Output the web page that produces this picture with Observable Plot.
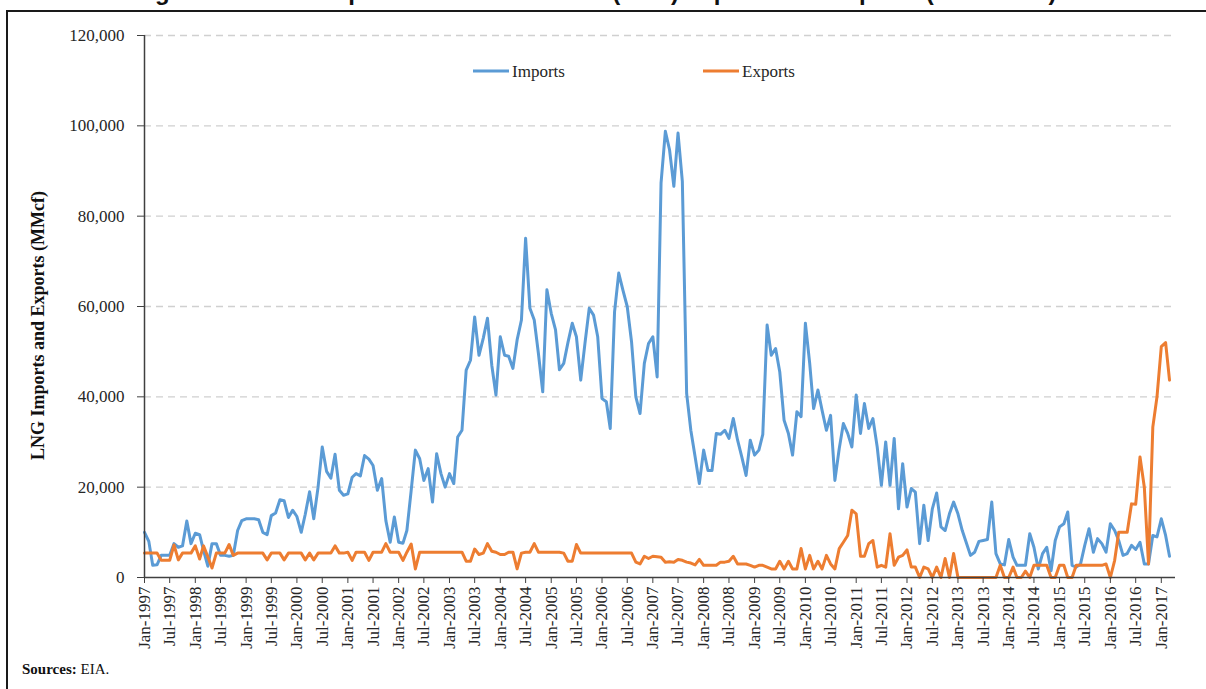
<!DOCTYPE html>
<html>
<head>
<meta charset="utf-8">
<script src="https://cdn.jsdelivr.net/npm/d3@7"></script>
<script src="https://cdn.jsdelivr.net/npm/@observablehq/plot@0.6"></script>
<style>
  html, body { margin: 0; padding: 0; background: #fff; overflow: hidden; }
  #chart svg { display: block; }
</style>
</head>
<body>
<div id="chart"></div>
<script>
// Monthly LNG imports and exports (MMcf), Jan-1997 .. Mar-2017
const startYear = 1997;
const imports = [
  10000, 8000, 2700, 2800, 4900, 4900, 4900, 7500, 6700, 7000, 12500, 7500,      // 1997
  9800, 9500, 6000, 2500, 7500, 7500, 4900, 4900, 4700, 4900, 10400, 12600,      // 1998
  13000, 13000, 13000, 12800, 10000, 9500, 13700, 14300, 17200, 17000, 13300, 14900, // 1999
  13500, 10000, 14000, 19000, 13000, 20000, 28900, 23500, 22000, 27300, 19300, 18200, // 2000
  18500, 22200, 23000, 22500, 27000, 26200, 24800, 19300, 21900, 12600, 7800, 13400, // 2001
  7800, 7600, 10400, 19300, 28200, 26300, 21500, 24100, 16700, 27400, 23000, 20000,  // 2002
  23000, 20800, 31100, 32600, 45900, 48100, 57700, 49200, 53000, 57400, 47000, 40400, // 2003
  53300, 49200, 49000, 46300, 52600, 57000, 75100, 59600, 57000, 49600, 41100, 63700, // 2004
  58500, 54800, 46000, 47400, 52000, 56300, 53300, 43700, 52000, 59600, 58100, 53300, // 2005
  39600, 38900, 33000, 58800, 67400, 63500, 60000, 52200, 40000, 36300, 47400, 51800, // 2006
  53300, 44400, 87300, 98800, 94700, 86600, 98400, 87700, 40700, 32600, 26700, 20800, // 2007
  28200, 23700, 23700, 31900, 31700, 32600, 30800, 35200, 30400, 26700, 22600, 30400, // 2008
  27100, 28200, 31700, 55900, 49200, 50700, 45500, 34800, 31900, 27100, 36700, 35600, // 2009
  56300, 47400, 37400, 41500, 37000, 32600, 35900, 21500, 28500, 34100, 31900, 28900, // 2010
  40400, 31900, 38500, 33000, 35200, 28900, 20400, 30000, 20400, 30800, 15200, 25200, // 2011
  15600, 19700, 18900, 7500, 16000, 8200, 15200, 18700, 11200, 10400, 14100, 16700,   // 2012
  14100, 10400, 7800, 4900, 5600, 8000, 8200, 8400, 16700, 5300, 3000, 2800,          // 2013
  8400, 4500, 2700, 2700, 2700, 9700, 6700, 1900, 5300, 6700, 1500, 8200,             // 2014
  11200, 11900, 14500, 2700, 2300, 3000, 7100, 10800, 5600, 8600, 7500, 5600,         // 2015
  11900, 10400, 8200, 4900, 5300, 7100, 6200, 7800, 3000, 3000, 9300, 9000,           // 2016
  13000, 9300, 4700                                                                   // 2017
];
const exports_ = [
  5400, 5400, 5400, 5400, 3800, 3800, 3800, 7200, 3900, 5400, 5400, 5400,   // 1997
  7000, 4100, 7000, 4600, 2100, 5400, 5400, 5400, 7300, 4900, 5400, 5400,   // 1998
  5400, 5400, 5400, 5400, 5400, 3900, 5400, 5400, 5400, 3900, 5400, 5400,   // 1999
  5400, 5400, 3900, 5400, 3900, 5400, 5400, 5400, 5400, 7000, 5400, 5400,   // 2000
  5600, 3800, 5600, 5600, 5600, 3800, 5600, 5600, 5600, 7500, 5600, 5600,   // 2001
  5600, 3800, 5600, 7400, 1900, 5600, 5600, 5600, 5600, 5600, 5600, 5600,   // 2002
  5600, 5600, 5600, 5600, 3600, 3600, 6300, 5100, 5400, 7500, 5800, 5600,   // 2003
  5100, 5100, 5600, 5600, 1900, 5400, 5600, 5600, 7500, 5600, 5600, 5600,   // 2004
  5600, 5600, 5600, 5400, 3600, 3600, 7300, 5400, 5400, 5400, 5400, 5400,   // 2005
  5400, 5400, 5400, 5400, 5400, 5400, 5400, 5400, 3400, 3000, 4700, 4200,   // 2006
  4700, 4600, 4500, 3400, 3500, 3400, 4000, 3800, 3400, 3200, 2800, 4000,   // 2007
  2700, 2700, 2700, 2700, 3400, 3400, 3600, 4700, 3000, 3000, 3000, 2700,   // 2008
  2300, 2700, 2700, 2300, 1900, 1900, 3600, 1900, 3600, 1900, 1900, 6400,   // 2009
  1900, 4900, 1900, 3600, 1900, 4900, 3000, 1900, 6400, 7800, 9300, 14900,  // 2010
  14100, 4700, 4700, 7500, 8200, 2300, 2700, 2300, 9700, 2700, 4500, 4900,  // 2011
  6100, 2300, 2300, 0, 2300, 1900, 0, 2300, 0, 4200, 0, 5300,               // 2012
  0, 0, 0, 0, 0, 0, 0, 0, 0, 0, 2700, 0,                                    // 2013
  0, 2300, 0, 0, 1400, 0, 2700, 2700, 2700, 2700, 0, 0,                     // 2014
  2700, 2700, 0, 0, 2700, 2700, 2700, 2700, 2700, 2700, 2700, 3000,         // 2015
  0, 3800, 10000, 10000, 10000, 16300, 16200, 26700, 20000, 3000, 33300, 40000, // 2016
  51100, 52000, 43700                                                       // 2017
];
const yTicks = [0, 20000, 40000, 60000, 80000, 100000, 120000];
const seriesNames = ["Imports", "Exports"];
const seriesColors = ["#5B9BD5", "#ED7D31"];
const yTitle = "LNG Imports and Exports (MMcf)";
const titleText = "Figure 3: U.S. Comparison of Natural Gas (LNG) Imports and Exports (1997-2017)";
const sourceLabel = "Sources:";
const sourceText = " EIA.";

const months = imports.map((_, i) => new Date(Date.UTC(startYear, i, 1)));
const xStart = new Date(Date.UTC(startYear, 0, 1));
const xEnd = new Date(Date.UTC(2017, 3, 13));
const xTicks = d3.utcMonth.every(6).range(xStart, new Date(Date.UTC(2017, 1, 1)));
const monthFmt = d3.utcFormat("%b");
const tickFmt = d => `${monthFmt(d)}-${d.getUTCFullYear()}`;

const W = 1206, H = 689;
const plot = Plot.plot({
  width: W,
  height: H,
  marginLeft: 144,
  marginRight: 31,
  marginTop: 35,
  marginBottom: 112,
  style: { fontFamily: "'Liberation Serif', 'Times New Roman', serif", fontSize: "17px", color: "#262626", background: "#fff" },
  x: { type: "utc", domain: [xStart, xEnd] },
  y: { domain: [0, 120000] },
  marks: [
    Plot.gridY(yTicks.slice(1), { stroke: "#d0d0d0", strokeOpacity: 1, strokeWidth: 1.3, strokeDasharray: "7,5" }),
    Plot.line(imports, { x: (d, i) => months[i], y: d => d, stroke: seriesColors[0], strokeWidth: 3, strokeLinejoin: "round" }),
    Plot.line(exports_, { x: (d, i) => months[i], y: d => d, stroke: seriesColors[1], strokeWidth: 3, strokeLinejoin: "round" }),
    Plot.ruleY([0], { stroke: "#404040", strokeWidth: 1.5 }),
    Plot.ruleX([xStart], { stroke: "#404040", strokeWidth: 1.5 }),
    Plot.axisY({ ticks: yTicks, tickFormat: d3.format(","), tickSize: 7, tickPadding: 13, label: null, stroke: "#404040", fontSize: 17 }),
    Plot.axisX({ ticks: xTicks, tickFormat: tickFmt, tickRotate: -90, tickSize: 6, tickPadding: 3, label: null, stroke: "#404040", fontSize: 17 }),
    Plot.text([yTitle], { frameAnchor: "left", textAnchor: "middle", dx: -106, dy: 19, rotate: -90, fontWeight: "bold", fontSize: 18, fill: "#111" })
  ]
});

const svg = d3.select(plot);
// frame around figure
svg.append("rect").attr("x", 7).attr("y", 11).attr("width", W + 50).attr("height", H + 50)
  .attr("fill", "none").attr("stroke", "#1a1a1a").attr("stroke-width", 2);
// title (clipped by the top edge as in the reference)
svg.append("text").attr("x", 595).attr("y", 0).attr("text-anchor", "middle")
  .attr("font-family", "'Liberation Sans', Arial, sans-serif").attr("font-weight", "bold").attr("font-size", 24)
  .attr("fill", "#111").text(titleText);
// legend
const lg = svg.append("g").attr("font-size", 17).attr("fill", "#262626").attr("text-anchor", "start");
const legendX = [473, 703];
seriesNames.forEach((name, i) => {
  lg.append("line").attr("x1", legendX[i]).attr("x2", legendX[i] + 36).attr("y1", 71).attr("y2", 71)
    .attr("stroke", seriesColors[i]).attr("stroke-width", 3);
  lg.append("text").attr("x", legendX[i] + 39).attr("y", 77).attr("text-anchor", "start").text(name);
});
// source note
const src = svg.append("text").attr("x", 22).attr("y", 674).attr("text-anchor", "start")
  .attr("font-size", 15).attr("fill", "#111");
src.append("tspan").attr("font-weight", "bold").text(sourceLabel);
src.append("tspan").text(sourceText);

document.getElementById("chart").appendChild(plot);
</script>
</body>
</html>
